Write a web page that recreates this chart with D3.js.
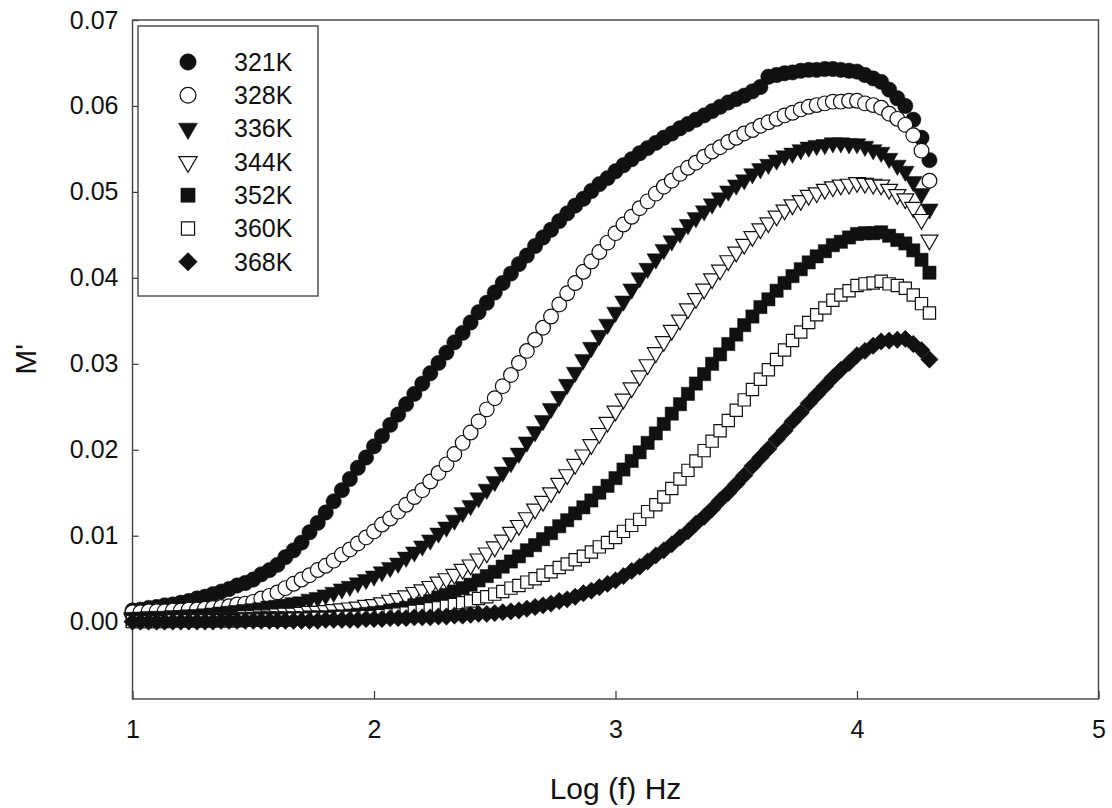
<!DOCTYPE html>
<html>
<head>
<meta charset="utf-8">
<script src="https://cdn.jsdelivr.net/npm/d3@7"></script>
<style>
  body { margin: 0; background: #fff; }
  svg { display: block; font-family: "Liberation Sans", Arial, sans-serif; }
  .tick text { font-size: 25px; fill: #111; }
  .axis-label { font-size: 30px; fill: #111; }
  .legend-text { font-size: 25px; fill: #111; }
</style>
</head>
<body>
<div id="chart"></div>
<script>
// log10 of frequency (shared by all temperatures)
const logF = [
  1.000,1.033,1.067,1.100,1.133,1.167,1.200,1.233,1.267,1.300,
  1.333,1.367,1.400,1.433,1.467,1.500,1.533,1.567,1.600,1.633,
  1.667,1.700,1.733,1.767,1.800,1.833,1.867,1.900,1.933,1.967,
  2.000,2.033,2.067,2.100,2.133,2.167,2.200,2.233,2.267,2.300,
  2.333,2.367,2.400,2.433,2.467,2.500,2.533,2.567,2.600,2.633,
  2.667,2.700,2.733,2.767,2.800,2.833,2.867,2.900,2.933,2.967,
  3.000,3.033,3.067,3.100,3.133,3.167,3.200,3.233,3.267,3.300,
  3.333,3.367,3.400,3.433,3.467,3.500,3.533,3.567,3.600,3.633,
  3.667,3.700,3.733,3.767,3.800,3.833,3.867,3.900,3.933,3.967,
  4.000,4.033,4.067,4.100,4.133,4.167,4.200,4.233,4.267,4.300
]

const m321 = [
  0.0013,0.0014,0.0016,0.0017,0.0019,0.0020,0.0022,0.0024,0.0027,0.0029,
  0.0032,0.0035,0.0038,0.0042,0.0045,0.0049,0.0055,0.0060,0.0066,0.0075,
  0.0083,0.0092,0.0104,0.0115,0.0127,0.0140,0.0153,0.0166,0.0179,0.0191,
  0.0204,0.0216,0.0229,0.0241,0.0253,0.0265,0.0277,0.0289,0.0301,0.0313,
  0.0325,0.0336,0.0348,0.0360,0.0371,0.0383,0.0394,0.0405,0.0416,0.0426,
  0.0437,0.0447,0.0456,0.0466,0.0475,0.0484,0.0492,0.0501,0.0509,0.0516,
  0.0524,0.0531,0.0538,0.0545,0.0551,0.0557,0.0563,0.0568,0.0574,0.0579,
  0.0584,0.0589,0.0594,0.0599,0.0604,0.0608,0.0612,0.0617,0.0622,0.0634,
  0.0636,0.0638,0.0639,0.0641,0.0642,0.0642,0.0643,0.0643,0.0642,0.0641,
  0.0640,0.0636,0.0632,0.0628,0.0619,0.0609,0.0600,0.0584,0.0563,0.0537
]
const m328 = [
  0.0011,0.0011,0.0012,0.0012,0.0012,0.0013,0.0013,0.0014,0.0014,0.0015,
  0.0016,0.0017,0.0018,0.0020,0.0021,0.0023,0.0027,0.0030,0.0034,0.0039,
  0.0044,0.0049,0.0054,0.0060,0.0065,0.0071,0.0078,0.0084,0.0091,0.0098,
  0.0105,0.0113,0.0120,0.0128,0.0136,0.0145,0.0153,0.0163,0.0173,0.0183,
  0.0195,0.0208,0.0220,0.0233,0.0247,0.0260,0.0274,0.0287,0.0301,0.0315,
  0.0328,0.0342,0.0355,0.0369,0.0382,0.0394,0.0407,0.0419,0.0430,0.0441,
  0.0452,0.0462,0.0471,0.0481,0.0489,0.0498,0.0506,0.0513,0.0521,0.0528,
  0.0534,0.0541,0.0547,0.0552,0.0558,0.0563,0.0568,0.0572,0.0577,0.0581,
  0.0585,0.0589,0.0592,0.0596,0.0599,0.0601,0.0603,0.0605,0.0605,0.0606,
  0.0606,0.0603,0.0601,0.0598,0.0591,0.0585,0.0578,0.0566,0.0548,0.0513
]
const m336 = [
  0.0005,0.0005,0.0006,0.0006,0.0006,0.0007,0.0007,0.0008,0.0008,0.0009,
  0.0010,0.0011,0.0012,0.0013,0.0014,0.0015,0.0016,0.0018,0.0019,0.0020,
  0.0022,0.0023,0.0026,0.0028,0.0031,0.0034,0.0038,0.0041,0.0045,0.0049,
  0.0053,0.0058,0.0063,0.0068,0.0075,0.0081,0.0088,0.0095,0.0103,0.0110,
  0.0118,0.0127,0.0135,0.0144,0.0154,0.0163,0.0174,0.0185,0.0196,0.0209,
  0.0221,0.0234,0.0248,0.0262,0.0276,0.0290,0.0305,0.0319,0.0333,0.0346,
  0.0360,0.0373,0.0387,0.0400,0.0411,0.0422,0.0433,0.0443,0.0452,0.0462,
  0.0470,0.0478,0.0486,0.0493,0.0501,0.0508,0.0514,0.0521,0.0527,0.0532,
  0.0537,0.0542,0.0545,0.0549,0.0552,0.0554,0.0555,0.0557,0.0557,0.0556,
  0.0556,0.0553,0.0549,0.0546,0.0539,0.0531,0.0524,0.0512,0.0498,0.0480
]
const m344 = [
  0.0003,0.0003,0.0003,0.0003,0.0003,0.0004,0.0004,0.0004,0.0005,0.0005,
  0.0005,0.0006,0.0006,0.0006,0.0007,0.0007,0.0008,0.0008,0.0009,0.0010,
  0.0010,0.0011,0.0012,0.0012,0.0013,0.0014,0.0015,0.0016,0.0017,0.0019,
  0.0020,0.0022,0.0025,0.0027,0.0030,0.0034,0.0037,0.0041,0.0046,0.0050,
  0.0055,0.0061,0.0066,0.0073,0.0080,0.0087,0.0095,0.0104,0.0112,0.0121,
  0.0131,0.0140,0.0150,0.0161,0.0171,0.0183,0.0194,0.0206,0.0219,0.0232,
  0.0245,0.0259,0.0272,0.0286,0.0299,0.0313,0.0326,0.0339,0.0351,0.0364,
  0.0376,0.0387,0.0399,0.0409,0.0420,0.0430,0.0439,0.0448,0.0457,0.0464,
  0.0472,0.0479,0.0485,0.0490,0.0496,0.0499,0.0503,0.0506,0.0508,0.0509,
  0.0511,0.0510,0.0509,0.0508,0.0503,0.0497,0.0492,0.0482,0.0468,0.0444
]
const m352 = [
  0.0001,0.0001,0.0001,0.0001,0.0001,0.0002,0.0002,0.0002,0.0002,0.0002,
  0.0003,0.0003,0.0003,0.0003,0.0003,0.0003,0.0004,0.0004,0.0004,0.0004,
  0.0004,0.0004,0.0005,0.0005,0.0005,0.0006,0.0006,0.0007,0.0008,0.0009,
  0.0010,0.0011,0.0013,0.0014,0.0016,0.0019,0.0021,0.0024,0.0028,0.0031,
  0.0035,0.0039,0.0043,0.0048,0.0053,0.0058,0.0064,0.0070,0.0076,0.0083,
  0.0089,0.0096,0.0103,0.0111,0.0118,0.0126,0.0133,0.0141,0.0150,0.0158,
  0.0167,0.0177,0.0187,0.0197,0.0208,0.0219,0.0230,0.0242,0.0253,0.0265,
  0.0277,0.0288,0.0300,0.0311,0.0323,0.0334,0.0345,0.0355,0.0366,0.0375,
  0.0385,0.0394,0.0402,0.0410,0.0418,0.0425,0.0431,0.0438,0.0442,0.0447,
  0.0451,0.0452,0.0452,0.0453,0.0449,0.0444,0.0440,0.0432,0.0421,0.0406
]
const m360 = [
  0.0000,0.0000,0.0000,0.0000,0.0000,0.0001,0.0001,0.0001,0.0001,0.0001,
  0.0001,0.0001,0.0001,0.0001,0.0002,0.0002,0.0002,0.0002,0.0002,0.0002,
  0.0003,0.0003,0.0003,0.0004,0.0004,0.0004,0.0005,0.0005,0.0005,0.0006,
  0.0006,0.0007,0.0008,0.0009,0.0010,0.0012,0.0013,0.0015,0.0016,0.0018,
  0.0020,0.0022,0.0024,0.0027,0.0029,0.0032,0.0035,0.0039,0.0042,0.0046,
  0.0050,0.0054,0.0058,0.0063,0.0067,0.0072,0.0076,0.0081,0.0087,0.0092,
  0.0098,0.0105,0.0112,0.0119,0.0128,0.0136,0.0145,0.0155,0.0166,0.0176,
  0.0187,0.0199,0.0210,0.0222,0.0234,0.0246,0.0258,0.0270,0.0282,0.0293,
  0.0305,0.0316,0.0327,0.0337,0.0348,0.0357,0.0365,0.0374,0.0380,0.0385,
  0.0391,0.0393,0.0394,0.0396,0.0393,0.0391,0.0388,0.0380,0.0370,0.0359
]
const m368 = [
  0.0000,0.0000,0.0000,0.0000,0.0000,0.0000,0.0000,0.0000,0.0000,0.0000,
  0.0000,0.0001,0.0001,0.0001,0.0001,0.0001,0.0001,0.0001,0.0001,0.0001,
  0.0001,0.0001,0.0001,0.0001,0.0002,0.0002,0.0002,0.0002,0.0002,0.0003,
  0.0003,0.0003,0.0004,0.0004,0.0004,0.0005,0.0005,0.0005,0.0006,0.0006,
  0.0007,0.0007,0.0008,0.0009,0.0009,0.0010,0.0011,0.0012,0.0013,0.0015,
  0.0017,0.0019,0.0021,0.0024,0.0026,0.0029,0.0033,0.0036,0.0040,0.0044,
  0.0048,0.0053,0.0059,0.0064,0.0070,0.0077,0.0083,0.0090,0.0098,0.0105,
  0.0114,0.0122,0.0131,0.0141,0.0150,0.0160,0.0170,0.0181,0.0191,0.0201,
  0.0212,0.0222,0.0233,0.0243,0.0254,0.0264,0.0274,0.0284,0.0293,0.0301,
  0.0310,0.0315,0.0321,0.0326,0.0327,0.0328,0.0329,0.0323,0.0316,0.0305
]

const seriesNames = ['321K', '328K', '336K', '344K', '352K', '360K', '368K']
const seriesValues = [m321, m328, m336, m344, m352, m360, m368]
const xTicks = [1, 2, 3, 4, 5]
const yTicks = [0.00, 0.01, 0.02, 0.03, 0.04, 0.05, 0.06, 0.07]

// marker style per series: shape, filled?, rotation
const markers = [
  { type: d3.symbolCircle, size: 185, filled: true, rot: 0 },
  { type: d3.symbolCircle, size: 170, filled: false, rot: 0 },
  { type: d3.symbolTriangle, size: 135, filled: true, rot: 180 },
  { type: d3.symbolTriangle, size: 125, filled: false, rot: 180 },
  { type: d3.symbolSquare, size: 175, filled: true, rot: 0 },
  { type: d3.symbolSquare, size: 150, filled: false, rot: 0 },
  { type: d3.symbolSquare, size: 150, filled: true, rot: 45 }
]

const width = 1112
const height = 808
const margin = { top: 20, right: 13.5, bottom: 109, left: 132.5 }
const innerW = width - margin.left - margin.right
const innerH = height - margin.top - margin.bottom

const svg = d3.select('#chart').append('svg')
  .attr('width', width)
  .attr('height', height)

const g = svg.append('g')
  .attr('transform', `translate(${margin.left},${margin.top})`)

const x = d3.scaleLinear().domain([1, 5]).range([0, innerW])
const y = d3.scaleLinear().domain([-0.009, 0.07]).range([innerH, 0])

// axes with inward ticks
const xAxis = d3.axisBottom(x).tickValues(xTicks).tickFormat(d3.format('d'))
  .tickSize(-8).tickPadding(21)
const yAxis = d3.axisLeft(y).tickValues(yTicks).tickFormat(d3.format('.2f'))
  .tickSize(-6).tickPadding(14)

g.append('g')
  .attr('class', 'axis x-axis')
  .attr('transform', `translate(0,${innerH})`)
  .call(xAxis)
  .call(s => s.select('.domain').remove())

g.append('g')
  .attr('class', 'axis y-axis')
  .call(yAxis)
  .call(s => s.select('.domain').remove())

g.selectAll('.tick line').attr('stroke', '#333').attr('stroke-width', 1.2)

// plot frame
g.append('rect')
  .attr('x', 0).attr('y', 0)
  .attr('width', innerW).attr('height', innerH)
  .attr('fill', 'none')
  .attr('stroke', '#444')
  .attr('stroke-width', 1.4)

// markers
const symbolPath = m => d3.symbol().type(m.type).size(m.size)()

seriesValues.forEach((vals, si) => {
  const m = markers[si]
  const pts = vals.map((v, i) => ({ lf: logF[i], v }))
  g.append('g')
    .attr('class', 'series s' + si)
    .selectAll('path')
    .data(pts)
    .join('path')
    .attr('d', symbolPath(m))
    .attr('transform', d => `translate(${x(d.lf)},${y(d.v)}) rotate(${m.rot})`)
    .attr('fill', m.filled ? '#111' : '#fff')
    .attr('stroke', '#111')
    .attr('stroke-width', m.filled ? 0.5 : 1.2)
})

// legend
const legend = svg.append('g').attr('class', 'legend')
legend.append('rect')
  .attr('x', 138).attr('y', 26)
  .attr('width', 180).attr('height', 270)
  .attr('fill', '#fff')
  .attr('stroke', '#444')
  .attr('stroke-width', 1.4)

seriesNames.forEach((name, i) => {
  const m = markers[i]
  const cy = 62 + i * 33.3
  legend.append('path')
    .attr('d', d3.symbol().type(m.type).size(m.size * 1.15)())
    .attr('transform', `translate(188,${cy}) rotate(${m.rot})`)
    .attr('fill', m.filled ? '#111' : '#fff')
    .attr('stroke', '#111')
    .attr('stroke-width', m.filled ? 0.5 : 1.2)
  legend.append('text')
    .attr('class', 'legend-text')
    .attr('x', 234)
    .attr('y', cy)
    .attr('dy', '0.35em')
    .text(name)
})

// axis titles
svg.append('text')
  .attr('class', 'axis-label')
  .attr('x', margin.left + innerW / 2)
  .attr('y', 799)
  .attr('text-anchor', 'middle')
  .text('Log (f) Hz')

svg.append('text')
  .attr('class', 'axis-label')
  .attr('transform', `translate(36,${margin.top + innerH / 2}) rotate(-90)`)
  .attr('text-anchor', 'middle')
  .text("M'")
</script>
</body>
</html>
